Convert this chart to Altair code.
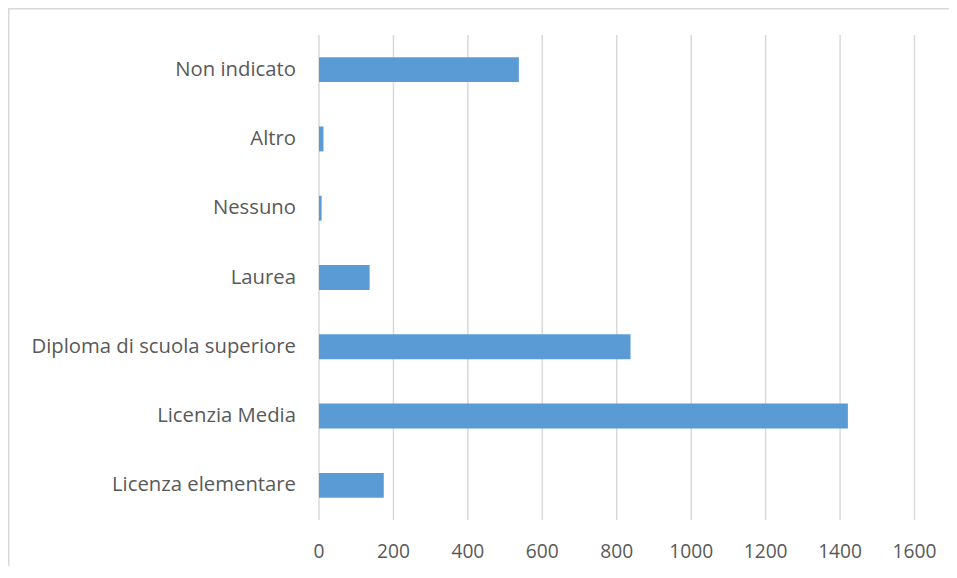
import altair as alt
import pandas as pd

categories = ["Non indicato", "Altro", "Nessuno", "Laurea",
              "Diploma di scuola superiore", "Licenzia Media", "Licenza elementare"]
values = [537, 12, 7, 136, 837, 1421, 174]
x_ticks = [0, 200, 400, 600, 800, 1000, 1200, 1400, 1600]

df = pd.DataFrame({"cat": categories, "val": values})
ticks_df = pd.DataFrame({"t": x_ticks})

# chart area (frame) = whole view; plot area placed inside it through scale ranges
VW, VH = 941, 558
PX0, PX1 = 311, 906.5
PY0, PY1 = 27, 512
FONT = "Open Sans"
TXT = "#595959"
FRAME = "#d9d9d9"

xs = alt.Scale(domain=[0, 1600], range=[PX0, PX1], nice=False)
ys = alt.Scale(domain=categories, range=[PY0, PY1],
               paddingInner=0.64, paddingOuter=0.32)

one = pd.DataFrame({"a": [0]})
frame_left = alt.Chart(one).mark_rule(color=FRAME, strokeWidth=1.5).encode(
    x=alt.value(0.75), y=alt.value(0), y2=alt.value(VH))
frame_top = alt.Chart(one).mark_rule(color=FRAME, strokeWidth=1.5).encode(
    y=alt.value(0.75), x=alt.value(0), x2=alt.value(VW))

grid = alt.Chart(ticks_df).mark_rule(color="#d9d9d9", strokeWidth=1.5).encode(
    x=alt.X("t:Q", scale=xs, axis=None),
    y=alt.value(PY0), y2=alt.value(PY1),
)

bars = alt.Chart(df).mark_bar(color="#5B9BD5").encode(
    y=alt.Y("cat:N", scale=ys, sort=categories, axis=None),
    x=alt.X("val:Q", scale=xs, axis=None),
)

ylabels = alt.Chart(df).mark_text(
    align="right", baseline="middle", font=FONT, fontSize=20.3, color=TXT
).encode(
    y=alt.Y("cat:N", scale=ys, sort=categories, axis=None),
    x=alt.value(PX0 - 23),
    text="cat:N",
)

xlabels = alt.Chart(ticks_df).mark_text(
    align="center", baseline="middle", font=FONT, fontSize=19.2, color=TXT
).encode(
    x=alt.X("t:Q", scale=xs, axis=None),
    y=alt.value(543.5),
    text=alt.Text("t:Q", format="d"),
)

chart = alt.layer(frame_left, frame_top, grid, bars, ylabels, xlabels).properties(
    width=VW, height=VH,
    autosize=alt.AutoSizeParams(type="none"),
    padding=0,
).configure_view(strokeWidth=0).configure(background="white")

chart.save("out.html", embed_options={"renderer": "svg", "actions": False})
